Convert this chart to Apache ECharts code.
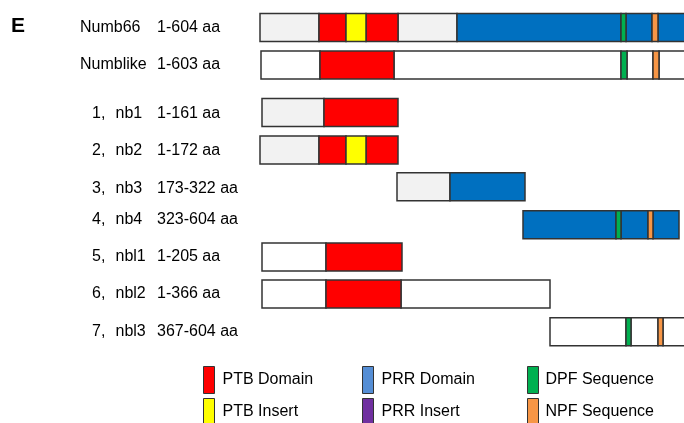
<!DOCTYPE html>
<html>
<head>
<meta charset="utf-8">
<style>
  html, body { margin: 0; padding: 0; background: #fff; }
  #chart { width: 684px; height: 423px; }
</style>
<script src="https://cdn.jsdelivr.net/npm/echarts@6/dist/echarts.min.js"></script>
</head>
<body>
<div id="chart"></div>
<script>
// constructs, top to bottom
const constructNumbers = ['', '', '1,', '2,', '3,', '4,', '5,', '6,', '7,'];
const constructNames = ['Numb66', 'Numblike', 'nb1', 'nb2', 'nb3', 'nb4', 'nbl1', 'nbl2', 'nbl3'];
const constructRanges = ['1-604 aa', '1-603 aa', '1-161 aa', '1-172 aa', '173-322 aa',
    '323-604 aa', '1-205 aa', '1-366 aa', '367-604 aa'];

// segments as [start, end, row]; x in drawing units from the left end of Numb66
// (the figure is not drawn to aa scale, so values are read off the picture)
const plainSegs = [
    [1, 60, 1], [134, 361, 1], [367, 393, 1], [399, 440, 1],
    [2, 66, 6], [2, 66, 7], [141, 290, 7],
    [290, 366, 8], [371, 398, 8], [403, 440, 8]
];
const linkerSegs = [[0, 59, 0], [138, 197, 0], [2, 64, 2], [0, 59, 3], [137, 190, 4]];
const ptbDomain = [
    [59, 86, 0], [106, 138, 0], [60, 134, 1], [64, 138, 2],
    [59, 86, 3], [106, 138, 3], [66, 142, 6], [66, 141, 7]
];
const ptbInsert = [[86, 106, 0], [86, 106, 3]];
const prrDomain = [
    [197, 361, 0], [366, 392, 0], [398, 440, 0], [190, 265, 4],
    [263, 356, 5], [361, 388, 5], [393, 419, 5]
];
const prrInsert = [];
const dpfSeq = [[361, 366, 0], [361, 367, 1], [356, 361, 5], [366, 371, 8]];
const npfSeq = [[392, 398, 0], [393, 399, 1], [388, 393, 5], [398, 403, 8]];

// layout
const ROW_Y = [27.5, 65, 112.5, 150, 186.7, 224.8, 257, 294, 331.7];
const LABEL_Y = [27.7, 65, 113.3, 150.7, 188.3, 219.3, 256.7, 294, 331.7];
const BAR_H = 28;
const FONT = '"Liberation Sans", Arial, sans-serif';

function renderSeg(params, api) {
    const row = api.value(2);
    const a = api.coord([api.value(0), ROW_Y[row]]);
    const b = api.coord([api.value(1), ROW_Y[row]]);
    return {
        type: 'rect',
        shape: { x: a[0], y: a[1] - BAR_H / 2, width: b[0] - a[0], height: BAR_H },
        style: api.style()
    };
}

function segSeries(name, data, color) {
    return {
        name: name,
        type: 'custom',
        renderItem: renderSeg,
        data: data,
        itemStyle: { color: color, borderColor: '#333', borderWidth: 1.5 },
        encode: { x: [0, 1] },
        silent: true
    };
}

// row labels
const labels = [];
constructNames.forEach((name, i) => {
    const y = LABEL_Y[i];
    const base = { fontSize: 16, fontFamily: FONT, fill: '#000', verticalAlign: 'middle' };
    if (constructNumbers[i]) {
        labels.push({ type: 'text', x: 92, y: y, style: Object.assign({ text: constructNumbers[i] }, base) });
        labels.push({ type: 'text', x: 115.5, y: y, style: Object.assign({ text: name }, base) });
    } else {
        labels.push({ type: 'text', x: 80, y: y, style: Object.assign({ text: name }, base) });
    }
    labels.push({ type: 'text', x: 157, y: y, style: Object.assign({ text: constructRanges[i] }, base) });
});
labels.push({
    type: 'text', x: 11, y: 26,
    style: { text: 'E', fontSize: 21, fontWeight: 'bold', fontFamily: FONT, fill: '#000', verticalAlign: 'middle' }
});

function legendAt(left, data, textPad) {
    return {
        left: left,
        top: 366,
        data: data,
        orient: 'vertical',
        padding: 0,
        height: 90,
        itemWidth: 11,
        itemHeight: 27,
        itemGap: 4,
        icon: 'rect',
        selectedMode: false,
        textStyle: { fontSize: 16, fontFamily: FONT, color: '#000', padding: textPad },
        itemStyle: { borderColor: '#333', borderWidth: 1 }
    };
}

const chart = echarts.init(document.getElementById('chart'));
chart.setOption({
    animation: false,
    grid: { left: 260, right: 0, top: 0, bottom: 0 },
    xAxis: { type: 'value', min: 0, max: 424, show: false },
    yAxis: { type: 'value', min: 0, max: 423, inverse: true, show: false },
    legend: [
        legendAt(203, ['PTB Domain', 'PTB Insert'], [2, 0, 0, 3]),
        legendAt(362, [{ name: 'PRR Domain', itemStyle: { color: '#558ED5' } }, 'PRR Insert'], [7, 0, 0, 3]),
        legendAt(527, ['DPF Sequence', 'NPF Sequence'], [0, 0, 0, 2])
    ],
    graphic: labels,
    series: [
        segSeries('plain', plainSegs, '#ffffff'),
        segSeries('linker', linkerSegs, '#f2f2f2'),
        segSeries('PTB Domain', ptbDomain, '#ff0000'),
        segSeries('PTB Insert', ptbInsert, '#ffff00'),
        segSeries('PRR Domain', prrDomain, '#0070c0'),
        segSeries('PRR Insert', prrInsert, '#7030a0'),
        segSeries('DPF Sequence', dpfSeq, '#00b050'),
        segSeries('NPF Sequence', npfSeq, '#f79646')
    ]
});
</script>
</body>
</html>
